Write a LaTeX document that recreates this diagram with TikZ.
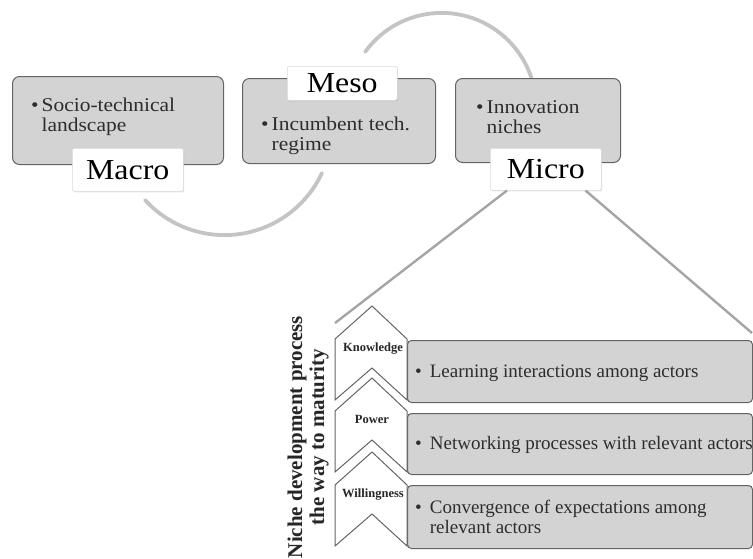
\documentclass[tikz,border=0pt]{standalone}
\usepackage{fontspec}
\usetikzlibrary{shadows}
\setmainfont{Liberation Serif}
\newfontfamily\widefont{Liberation Serif}[FakeStretch=1.1]
\definecolor{boxgray}{RGB}{211,211,211}
\definecolor{edgegray}{RGB}{100,100,100}
\definecolor{arcgray}{RGB}{196,196,196}
\definecolor{linegray}{RGB}{165,165,165}
\definecolor{txtgray}{RGB}{45,45,45}
\begin{document}
\begin{tikzpicture}[x=1pt,y=-1pt,
  levelbox/.style={draw=edgegray,fill=boxgray,line width=1pt,rounded corners=7pt,anchor=north west,inner sep=0pt},
  levellabel/.style={draw=black!15,fill=white,line width=0.5pt,rounded corners=1.5pt,anchor=north west,inner sep=0pt,font=\widefont\fontsize{29}{30}\selectfont,text=black,drop shadow={shadow xshift=0.8pt,shadow yshift=-1.2pt,opacity=0.22}},
  toptext/.style={anchor=base west,inner sep=0pt,font=\widefont\fontsize{19.5}{20}\selectfont,text=txtgray,align=left},
  bullettext/.style={anchor=base west,inner sep=0pt,font=\fontsize{19}{20}\selectfont,text=txtgray,align=left},
  cyclearc/.style={draw=arcgray,line width=3.8pt,line cap=round},
  zoomline/.style={draw=linegray,line width=2.4pt},
  chevronshape/.style={draw=edgegray,fill=white,line width=1pt,line join=miter},
  stagelabel/.style={font=\bfseries\fontsize{12.5}{13}\selectfont,text=black!85,inner sep=0pt},
  detailbox/.style={draw=edgegray,fill=boxgray,line width=1pt,rounded corners=4pt,anchor=north west,inner sep=0pt,minimum width=345pt,minimum height=62pt}
]
\useasboundingbox (0,0) rectangle (753,558);

% cycle arcs (behind the boxes)
\draw[cyclearc] (441.6,107.4) ++(-144:94.5) arc[start angle=-144,end angle=-17,radius=94.5];
\draw[cyclearc] (224.5,127.6) ++(25:107.5) arc[start angle=25,end angle=137.7,radius=107.5];

% level boxes
\node[levelbox,minimum width=211pt,minimum height=88pt] (macrobox) at (12,76) {};
\node[levelbox,minimum width=193pt,minimum height=85pt] (mesobox) at (242,78) {};
\node[levelbox,minimum width=165pt,minimum height=84pt] (microbox) at (455,78) {};

\node[toptext] (macrotxt) at (31,111) {\textbullet\hspace{3pt}\begin{tabular}[t]{@{}l@{}}Socio-technical\\landscape\end{tabular}};
\node[toptext] (mesotxt) at (261,130) {\textbullet\hspace{3pt}\begin{tabular}[t]{@{}l@{}}Incumbent tech.\\regime\end{tabular}};
\node[toptext] (microtxt) at (476,113) {\textbullet\hspace{3pt}\begin{tabular}[t]{@{}l@{}}Innovation\\niches\end{tabular}};

% level labels
\node[levellabel,minimum width=111pt,minimum height=43pt] (macrolabel) at (72,148) {Macro};
\node[levellabel,minimum width=110pt,minimum height=34pt] (mesolabel) at (287,66) {Meso};
\node[levellabel,minimum width=111pt,minimum height=42pt] (microlabel) at (490,148) {Micro};

% zoom connectors
\coordinate (zoomleft) at (335,323);
\coordinate (zoomright) at (752,333);
\draw[zoomline] ([xshift=17pt]microlabel.south west) -- (zoomleft);
\draw[zoomline] ([xshift=-16pt]microlabel.south east) -- (zoomright);

% detail boxes
\node[detailbox] (knowbox) at (407,340) {};
\node[detailbox,minimum height=61pt] (powerbox) at (407,413) {};
\node[detailbox,minimum height=63pt] (willbox) at (407,485) {};

\node[bullettext] (knowtxt) at (415,377) {\textbullet\hspace{8pt}Learning interactions among actors};
\node[bullettext] (powertxt) at (415,449) {\textbullet\hspace{8pt}Networking processes with relevant actors};
\node[bullettext] (willtxt) at (415,513) {\textbullet\hspace{8pt}\begin{tabular}[t]{@{}l@{}}Convergence of expectations among\\relevant actors\end{tabular}};

% chevrons
\foreach \dy in {0,72,146}{
  \draw[chevronshape] (335,{339+\dy}) -- (372,{306+\dy}) -- (407,{339+\dy}) -- (407,{400+\dy}) -- (372,{368+\dy}) -- (335,{400+\dy}) -- cycle;
}
\node[stagelabel] (knowlab) at (373,349) {Knowledge};
\node[stagelabel] (powerlab) at (372,419) {Power};
\node[stagelabel] (willlab) at (373,495) {Willingness};

% vertical title
\node[rotate=90,align=center,inner sep=0pt,font=\bfseries\fontsize{21}{22}\selectfont,text=black!85] (vtitle) at (308,437) {Niche development process\\the way to maturity};
\end{tikzpicture}
\end{document}
